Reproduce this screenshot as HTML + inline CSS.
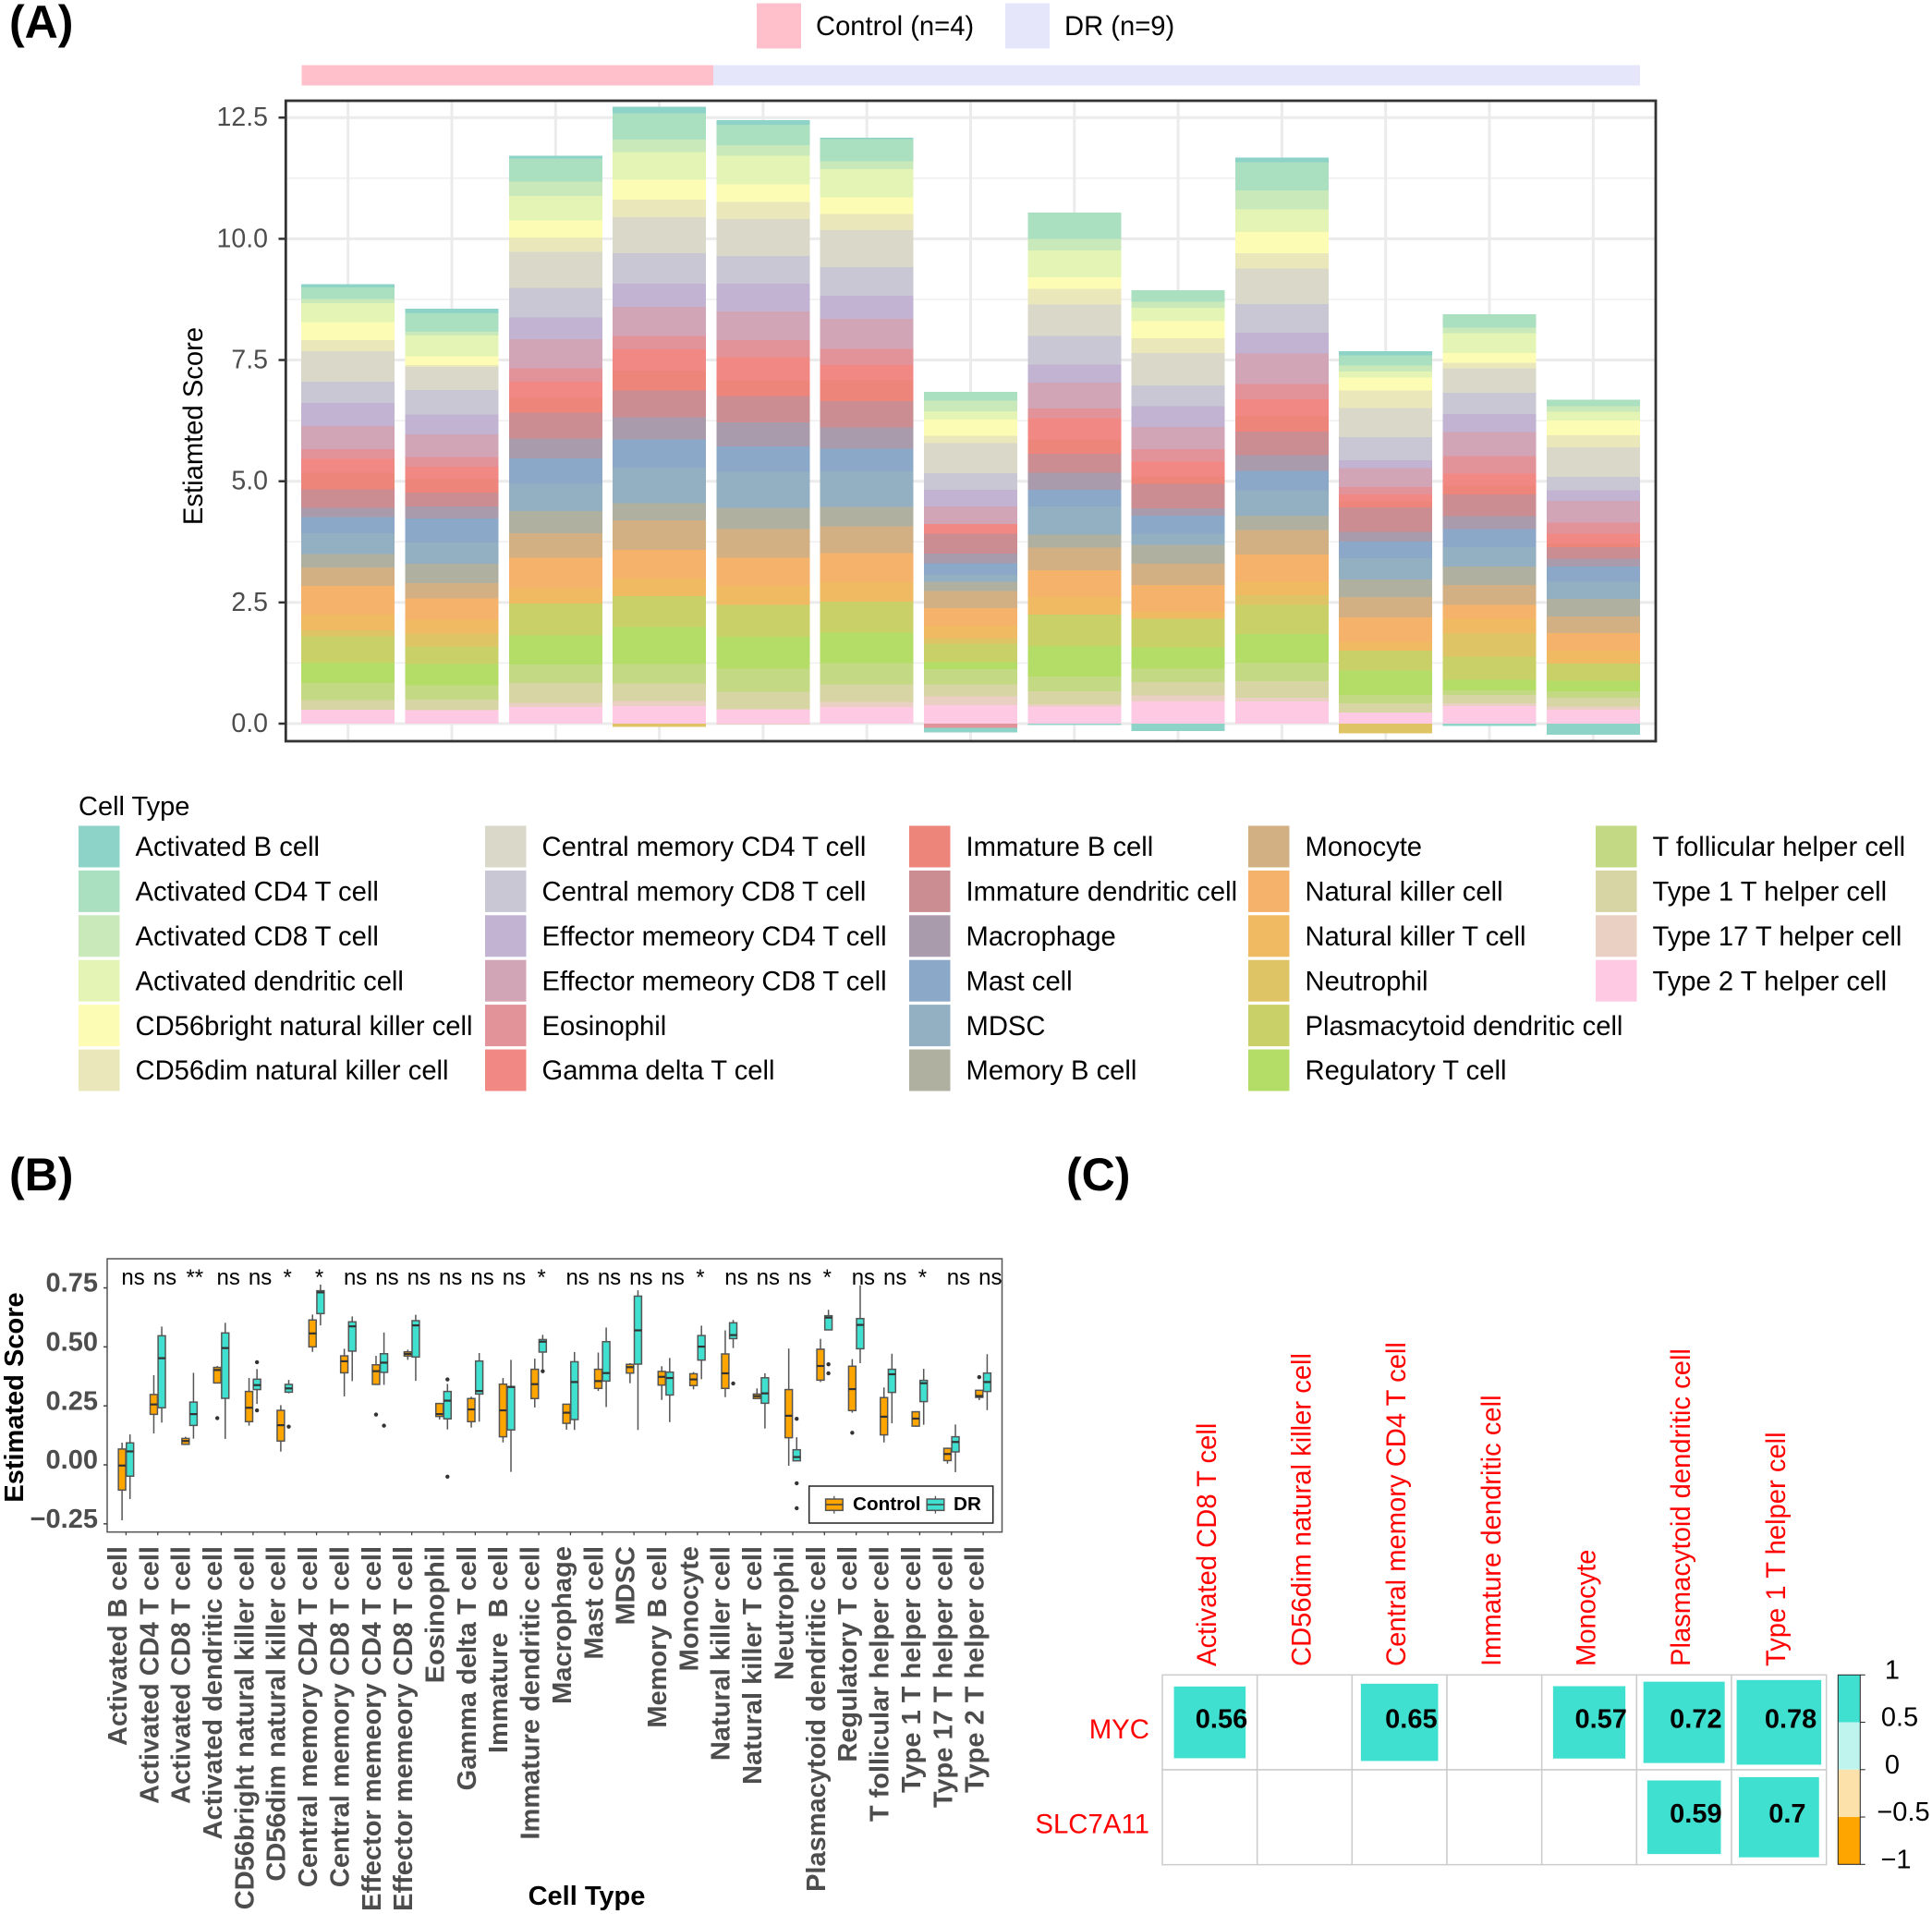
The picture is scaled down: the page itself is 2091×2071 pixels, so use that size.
<!DOCTYPE html>
<html lang="en">
<head>
<meta charset="utf-8">
<title>Immune cell infiltration figure</title>
<style>
html,body{margin:0;padding:0;background:#fff;}
svg{display:block;font-family:"Liberation Sans",Arial,sans-serif;}
text{white-space:pre;}
</style>
</head>
<body>
<svg id="figure" xmlns="http://www.w3.org/2000/svg" width="2091" height="2071" viewBox="0 0 2091 2071">
  <rect x="0" y="0" width="2091" height="2071" fill="#fff"/>
  <text x="10" y="41" font-size="50" font-weight="bold">(A)</text>
  <text x="10" y="1288" font-size="50" font-weight="bold">(B)</text>
  <text x="1154" y="1288" font-size="50" font-weight="bold">(C)</text>

  <rect x="819" y="3.5" width="48" height="49" fill="#ffc0cb"/>
  <text x="883" y="38" font-size="29.2">Control (n=4)</text>
  <rect x="1088" y="3.5" width="48" height="49" fill="#e6e6fa"/>
  <text x="1152" y="38" font-size="29.2">DR (n=9)</text>
  <rect x="326.5" y="70.5" width="445.5" height="22" fill="#ffc0cb"/>
  <rect x="772" y="70.5" width="1003" height="22" fill="#e6e6fa"/>

  <text transform="translate(219,461) rotate(-90)" text-anchor="middle" font-size="29.2">Estiamted Score</text>
  <text x="85" y="882" font-size="29" word-spacing="-4">Cell  Type</text>

  <text transform="translate(25,1512) rotate(-90)" text-anchor="middle" font-size="29" font-weight="bold">Estimated Score</text>
  <text x="635" y="2061" text-anchor="middle" font-size="29" font-weight="bold">Cell Type</text>

  <g id="panel-a"></g>
  <g id="panel-a-legend"></g>
  <g id="panel-b"></g>
  <g id="panel-c"></g>
</svg>

<script>
/* ---------- shared categories ---------- */
const cellTypes = ["Activated B cell","Activated CD4 T cell","Activated CD8 T cell","Activated dendritic cell","CD56bright natural killer cell","CD56dim natural killer cell","Central memory CD4 T cell","Central memory CD8 T cell","Effector memeory CD4 T cell","Effector memeory CD8 T cell","Eosinophil","Gamma delta T cell","Immature B cell","Immature dendritic cell","Macrophage","Mast cell","MDSC","Memory B cell","Monocyte","Natural killer cell","Natural killer T cell","Neutrophil","Plasmacytoid dendritic cell","Regulatory T cell","T follicular helper cell","Type 1 T helper cell","Type 17 T helper cell","Type 2 T helper cell"];
const cellColors = ["#8dd3c7","#aadfc0","#c9e9bb","#e4f4b5","#fcfcb5","#eae8bb","#dad8c9","#c9c7d3","#c1b3d1","#d1a5b6","#e19399","#f28883","#ee857b","#cb8d92","#aa9bac","#8ca8c8","#93b0c2","#b0b0a0","#d3b083","#f4b26a","#f0ba62","#dfc465","#cad068","#b4dd68","#c3d984","#d6d5a3","#e9d0c2","#fdc9e3"];

/* ---------- panel A: estimated score per sample, one value per cell type ---------- */
const sample01 = [.06,.24,.09,.39,.37,.23,.63,.44,.47,.48,.20,.28,.35,.38,.19,.33,.43,.28,.38,.59,.32,.13,.54,.42,.35,.20,0,.29];
const sample02 = [.10,.38,.07,.43,.18,.04,.48,.50,.41,.47,.20,.25,.28,.29,.25,.49,.44,.40,.32,.44,.28,.27,.36,.44,.29,.21,.01,.28];
const sample03 = [.05,.48,.30,.50,.35,.30,.74,.61,.45,.60,.28,.33,.31,.53,.41,.52,.57,.45,.51,.63,.31,0,.66,.60,.38,.41,.09,.34];
const sample04 = [.13,.54,.26,.57,.41,.36,.75,.63,.47,.60,.28,.44,.41,.55,.46,.58,.73,.36,.61,.59,.36,-.07,.64,.76,.40,.36,.11,.36];
const sample05 = [.10,.42,.22,.59,.36,.35,.76,.58,.57,.59,.35,.48,.32,.55,.49,.53,.74,.44,.59,.57,.40,0,.66,.66,.47,.36,-.02,.30];
const sample06 = [.03,.46,.16,.58,.35,.33,.76,.59,.48,.62,.33,.31,.44,.54,.44,.47,.73,.40,.55,.60,.40,0,.64,.63,.44,.36,.11,.34];
const sample07 = [-.09,.18,.22,.17,.33,.15,.62,.35,.34,.36,-.09,.20,0,.41,.20,.24,.14,.19,.36,.36,.26,.11,.38,.15,.31,.25,.18,.38];
const sample08 = [-.03,.54,.24,.55,.24,.33,.64,.59,.38,.53,.20,.44,.29,.39,.36,.34,.58,.27,.47,.55,.36,0,.65,.63,.30,.27,.05,.35];
const sample09 = [-.15,.24,.12,.28,.35,.31,.66,.43,.43,.46,.26,.30,.15,.51,.15,.37,.23,.39,.44,.55,.15,0,.59,.44,.27,.28,.12,.46];
const sample10 = [.10,.58,.39,.47,.44,.31,.74,.59,.43,.62,.32,.34,.33,.48,.33,.40,.52,.30,.50,.55,.29,.20,.60,.59,.38,.35,.07,.46];
const sample11 = [.08,.21,.13,.12,.27,.36,.60,.48,.16,.39,.15,.15,.12,.50,.20,.35,.44,.36,.42,.50,.18,-.20,.41,.51,.17,.19,0,.23];
const sample12 = [-.05,.27,.12,.41,.20,.11,.51,.43,.38,.49,.36,.25,.18,.45,.27,.37,.40,.38,.41,.28,.30,.49,.47,.22,.10,.17,.06,.36];
const sample13 = [-.23,.13,.12,.18,.30,.25,.61,.28,.22,.44,.23,.20,.08,.24,.16,.31,.36,.36,.34,.36,.27,0,.35,.22,.14,.18,.06,.29];
const samples = [sample01,sample02,sample03,sample04,sample05,sample06,sample07,sample08,sample09,sample10,sample11,sample12,sample13];
const stackedYTicks = [0,2.5,5,7.5,10,12.5];
const stackedYMinorTicks = [1.25,3.75,6.25,8.75,11.25];
const stackedYTickLabels = ["0.0","2.5","5.0","7.5","10.0","12.5"];

/* ---------- panel B: box statistics per cell type ---------- */
const controlLow = [-.235,.133,.087,.347,.166,.056,.479,.290,.341,.445,.192,.158,.095,.243,.149,.313,.346,.275,.320,.287,.278,-.004,.351,.221,.095,.161,.005,.274];
const controlQ1 = [-.107,.214,.087,.347,.183,.101,.500,.390,.341,.461,.205,.183,.119,.281,.176,.324,.389,.338,.336,.324,.281,.115,.359,.230,.127,.164,.018,.286];
const controlMedian = [-.003,.256,.101,.402,.242,.168,.557,.439,.397,.470,.215,.235,.231,.342,.221,.355,.414,.373,.362,.388,.291,.208,.419,.321,.204,.196,.046,.292];
const controlQ3 = [.067,.298,.112,.413,.311,.231,.614,.462,.424,.479,.260,.281,.342,.405,.257,.405,.426,.396,.386,.470,.300,.319,.490,.418,.285,.225,.070,.316];
const controlHigh = [.094,.380,.119,.419,.368,.253,.637,.492,.462,.488,.261,.289,.368,.450,.257,.476,.431,.418,.393,.570,.324,.493,.534,.448,.328,.226,.073,.317];
const controlOutliers = [[],[],[],[.198],[],[],[],[],[.213],[],[],[],[],[],[],[],[],[],[],[],[],[],[],[.136],[],[],[],[.372]];
const drLow = [-.145,.179,.111,.110,.258,.303,.591,.355,.339,.356,.150,.183,-.030,.405,.148,.245,.148,.181,.363,.495,.154,.017,.572,.431,.176,.170,-.031,.232];
const drQ1 = [-.048,.242,.167,.282,.319,.308,.641,.482,.392,.457,.195,.300,.148,.478,.192,.355,.427,.296,.444,.535,.261,.017,.572,.492,.307,.268,.055,.311];
const drMedian = [.057,.452,.215,.495,.338,.324,.731,.587,.433,.591,.272,.313,.330,.522,.351,.389,.570,.368,.501,.550,.303,.033,.624,.593,.384,.346,.097,.351];
const drQ3 = [.093,.547,.266,.559,.363,.341,.738,.606,.471,.611,.311,.440,.332,.531,.437,.522,.715,.393,.548,.602,.369,.064,.632,.620,.405,.358,.119,.389];
const drHigh = [.129,.586,.390,.602,.406,.360,.764,.629,.561,.636,.343,.474,.445,.551,.478,.582,.740,.453,.590,.614,.388,.117,.657,.761,.471,.407,.171,.469];
const drOutliers = [[],[],[],[],[.435,.231],[.162],[],[],[.166],[],[.362,-.05],[],[],[.397],[],[],[],[],[],[.345],[],[.195,-.078,-.184],[.426,.388],[],[],[],[],[]];
const significance = ["ns","ns","**","ns","ns","*","*","ns","ns","ns","ns","ns","ns","*","ns","ns","ns","ns","*","ns","ns","ns","*","ns","ns","*","ns","ns"];
const boxYTicks = [-.25,0,.25,.5,.75];
const boxYTickLabels = ["\u22120.25","0.00","0.25","0.50","0.75"];

/* ---------- panel C: correlation values ---------- */
const corrColumns = ["Activated CD8 T cell","CD56dim natural killer cell","Central memory CD4 T cell","Immature dendritic cell","Monocyte","Plasmacytoid dendritic cell","Type 1 T helper cell"];
const corrRows = ["MYC","SLC7A11"];
const corrMYC = [.56,null,.65,null,.57,.72,.78];
const corrSLC7A11 = [null,null,null,null,null,.59,.7];
const corrMatrix = [corrMYC,corrSLC7A11];
const colorbarValues = [1,.5,0,-.5,-1];
const colorbarLabels = ["1","0.5","0","\u22120.5","\u22121"];
const colorbarFills = ["#40e0d0","#bff4ee","#fde1aa","#ffa500"];

/* ---------- helpers ---------- */
const SVGNS = "http://www.w3.org/2000/svg";
function mk(tag, attrs, parent, text){
  const el = document.createElementNS(SVGNS, tag);
  for (const k in attrs) el.setAttribute(k, attrs[k]);
  if (text !== undefined) el.textContent = text;
  parent.appendChild(el);
  return el;
}
function slug(s){ return s.toLowerCase().replace(/[^a-z0-9]+/g, "-"); }

/* ---------- panel A drawing ---------- */
(function(){
  const g = document.getElementById("panel-a");
  const yA = v => 783 - v * 52.46;
  const xA = i => 376.7 + i * 112.3;
  const barW = 101;
  const left = 309.3, right = 1792, top = 109, bottom = 802;

  const bg = mk("rect",{x:left,y:top,width:right-left,height:bottom-top,fill:"#fff"},g);
  
  

  stackedYMinorTicks.forEach(v=>{
    const l = mk("line",{x1:left,x2:right,y1:yA(v),y2:yA(v),stroke:"#efefef","stroke-width":1.5},g);
    
    
  });
  stackedYTicks.forEach(v=>{
    const l = mk("line",{x1:left,x2:right,y1:yA(v),y2:yA(v),stroke:"#ebebeb","stroke-width":3},g);
    
    
  });
  samples.forEach((vals,s)=>{
    const l = mk("line",{x1:xA(s),x2:xA(s),y1:top,y2:bottom,stroke:"#ebebeb","stroke-width":3},g);
    
    
  });
  samples.forEach((vals,s)=>{
    let pos = 0, neg = 0;
    for (let c = vals.length - 1; c >= 0; c--){
      const v = vals[c];
      if (v === 0) continue;
      let hi, lo;
      if (v > 0){ lo = pos; hi = pos + v; pos = hi; }
      else { hi = neg; lo = neg + v; neg = lo; }
      const seg = mk("rect",{x:xA(s)-barW/2,y:yA(hi),width:barW,height:yA(lo)-yA(hi),fill:cellColors[c],"shape-rendering":"crispEdges"},g);
      
      
    }
  });
  const frame = mk("rect",{x:left,y:top,width:right-left,height:bottom-top,fill:"none",stroke:"#333","stroke-width":2.8},g);
  
  

  stackedYTicks.forEach((v,i)=>{
    const t = mk("line",{x1:301.5,x2:309,y1:yA(v),y2:yA(v),stroke:"#333","stroke-width":2.5},g);
    
    
    const lab = mk("text",{x:290,y:yA(v)-1,dy:".35em","text-anchor":"end","font-size":28.5,fill:"#4d4d4d"},g,stackedYTickLabels[i]);
    
    
  });
})();

/* ---------- panel A legend ---------- */
(function(){
  const g = document.getElementById("panel-a-legend");
  const swatchX = [85,525,984,1351,1727];
  cellTypes.forEach((name,i)=>{
    const col = Math.floor(i / 6), row = i % 6;
    const cy = 916 + row * 48.4;
    const sw = mk("rect",{x:swatchX[col],y:cy-22.5,width:44.5,height:45,fill:cellColors[i]},g);
    
    
    const tx = mk("text",{x:swatchX[col]+61.5,y:cy,dy:".35em","font-size":29.2,fill:"#000"},g,name);
    
    
  });
})();

/* ---------- panel B drawing ---------- */
(function(){
  const g = document.getElementById("panel-b");
  const yB = v => 1585 - v * 255.3;
  const xB = i => 136.4 + i * 34.36;
  const left = 116, right = 1084.5, top = 1362, bottom = 1657.7;
  const boxW = 7.9, dodge = 4.3;

  const frame = mk("rect",{x:left,y:top,width:right-left,height:bottom-top,fill:"#fff",stroke:"#555","stroke-width":1.5},g);
  
  

  boxYTicks.forEach((v,i)=>{
    const t = mk("line",{x1:112,x2:116,y1:yB(v),y2:yB(v),stroke:"#444","stroke-width":1.5},g);
    
    
    const lab = mk("text",{x:106,y:yB(v)-6,dy:".35em","text-anchor":"end","font-size":29,"font-weight":"bold",fill:"#4d4d4d"},g,boxYTickLabels[i]);
    
    
  });

  function drawBox(i, off, low, q1, med, q3, high, outs, fill, series){
    const cx = xB(i) + off;
    const whisker = mk("line",{x1:cx,x2:cx,y1:yB(high),y2:yB(low),stroke:"#555","stroke-width":1.5},g);
    
    
    const box = mk("rect",{x:cx-boxW/2,y:yB(q3),width:boxW,height:yB(q1)-yB(q3),fill:fill,stroke:"#555","stroke-width":1.5},g);
    
    
    const m = mk("line",{x1:cx-boxW/2,x2:cx+boxW/2,y1:yB(med),y2:yB(med),stroke:"#333","stroke-width":2.2},g);
    
    
    outs.forEach(o=>{
      const d = mk("circle",{cx:cx,cy:yB(o),r:2.2,fill:"#333"},g);
      
      
    });
  }

  cellTypes.forEach((name,i)=>{
    drawBox(i,-dodge,controlLow[i],controlQ1[i],controlMedian[i],controlQ3[i],controlHigh[i],controlOutliers[i],"#ffa500","control");
    drawBox(i,dodge,drLow[i],drQ1[i],drMedian[i],drQ3[i],drHigh[i],drOutliers[i],"#40e0d0","dr");

    const tick = mk("line",{x1:xB(i),x2:xB(i),y1:bottom,y2:bottom+3.5,stroke:"#444","stroke-width":1.3},g);
    
    

    const lx = xB(i) + 0.5;
    const label = mk("text",{transform:"translate("+lx+",1673) rotate(-90)","text-anchor":"end","font-size":29,"font-weight":"bold",fill:"#4d4d4d"},g,name.replace("Immature B","Immature  B"));
    
    

    const sig = significance[i];
    const sigX = sig === "ns" ? xB(i) + 7.7 : (sig === "**" ? xB(i) + 5.7 : xB(i) + 3);
    const st = mk("text",{x:sigX,y:1390,"text-anchor":"middle","font-size":24,fill:"#000"},g,sig);
    
    
  });

  /* inner legend */
  const lg = mk("rect",{x:875.7,y:1608,width:199,height:40,fill:"#fff",stroke:"#222","stroke-width":1.5},g);
  
  

  const k1w = mk("line",{x1:902.8,x2:902.8,y1:1618.7,y2:1637.7,stroke:"#555","stroke-width":1.3},g);
  
  
  const k1 = mk("rect",{x:893.6,y:1622,width:18.6,height:12.3,fill:"#ffa500",stroke:"#555","stroke-width":1.5},g);
  
  
  const k1m = mk("line",{x1:893.6,x2:912.2,y1:1628,y2:1628,stroke:"#444","stroke-width":1.6},g);
  
  
  const k1t = mk("text",{x:923,y:1627,dy:".35em","font-size":20.7,"font-weight":"bold",fill:"#000"},g,"Control");
  
  

  const k2w = mk("line",{x1:1012.4,x2:1012.4,y1:1618.7,y2:1637.7,stroke:"#555","stroke-width":1.3},g);
  
  
  const k2 = mk("rect",{x:1003.2,y:1622,width:18.6,height:12.3,fill:"#40e0d0",stroke:"#555","stroke-width":1.5},g);
  
  
  const k2m = mk("line",{x1:1003.2,x2:1021.8,y1:1628,y2:1628,stroke:"#444","stroke-width":1.6},g);
  
  
  const k2t = mk("text",{x:1032,y:1627,dy:".35em","font-size":20.7,"font-weight":"bold",fill:"#000"},g,"DR");
  
  
})();

/* ---------- panel C drawing ---------- */
(function(){
  const g = document.getElementById("panel-c");
  const left = 1258, top = 1812.3, cell = 102.67;
  const cx = c => left + (c + .5) * cell;
  const cy = r => top + (r + .5) * cell;

  corrMatrix.forEach((rowVals,r)=>{
    rowVals.forEach((v,c)=>{
      const box = mk("rect",{x:left+c*cell,y:top+r*cell,width:cell,height:cell,fill:"#fff",stroke:"#ccc","stroke-width":1.5},g);
      
      
    });
  });
  corrMatrix.forEach((rowVals,r)=>{
    rowVals.forEach((v,c)=>{
      if (v === null) return;
      const size = cell * Math.sqrt(Math.abs(v)) * 1.01;
      const sq = mk("rect",{x:cx(c)-size/2,y:cy(r)-size/2,width:size,height:size,fill:v>0?"#40e0d0":"#ffa500"},g);
      
      
    });
  });
  corrMatrix.forEach((rowVals,r)=>{
    rowVals.forEach((v,c)=>{
      if (v === null) return;
      const s = String(v);
      const tx = mk("text",{x:cx(c)+(s.length>3?12.7:9),y:cy(r)-4.3,dy:".35em","text-anchor":"middle","font-size":29,"font-weight":"bold",fill:"#000"},g,s);
      
      
    });
  });
  corrColumns.forEach((name,c)=>{
    const lx = cx(c) + 6.5;
    const t = mk("text",{transform:"translate("+lx+",1803) rotate(-90)","font-size":29.2,fill:"#ff0000"},g,name);
    
    
  });
  corrRows.forEach((name,r)=>{
    const t = mk("text",{x:1244,y:cy(r)+7,dy:".35em","text-anchor":"end","font-size":29.4,fill:"#ff0000"},g,name);
    
    
  });

  const barX = 1989.3, barW = 24, barTop = 1812.3, barBottom = 2017.3;
  const yC = v => barBottom - (v + 1) / 2 * (barBottom - barTop);
  colorbarFills.forEach((f,i)=>{
    const seg = mk("rect",{x:barX,y:yC(colorbarValues[i]),width:barW,height:yC(colorbarValues[i+1])-yC(colorbarValues[i]),fill:f},g);
    
    
  });
  const border = mk("rect",{x:barX,y:barTop,width:barW,height:barBottom-barTop,fill:"none",stroke:"#222","stroke-width":1},g);
  
  
  colorbarValues.forEach((v,i)=>{
    const t = mk("line",{x1:barX+barW,x2:barX+barW+5.5,y1:yC(v),y2:yC(v),stroke:"#222","stroke-width":1},g);
    
    
    const s = colorbarLabels[i];
    const lab = mk("text",{x:2044+4*s.length,y:yC(v)-6,dy:".35em","text-anchor":"middle","font-size":29,fill:"#000"},g,s);
    
    
  });
})();
</script>
</body>
</html>
